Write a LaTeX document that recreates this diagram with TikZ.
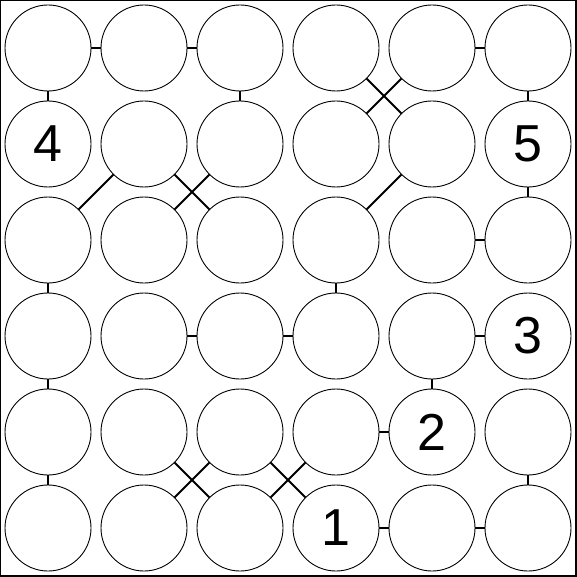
\documentclass[tikz,border=0pt]{standalone}
\usepackage{fontspec}
\setmainfont{Liberation Sans}
\begin{document}
\begin{tikzpicture}[x=1pt,y=-1pt,
  dot/.style={circle,draw,line width=0.9pt,inner sep=0pt,minimum size=86pt,font=\fontsize{52}{60}\selectfont},
  link/.style={line width=2pt}]
\useasboundingbox (0,0) rectangle (577,577);
\draw[line width=1.2pt] (0.6,0.6) rectangle (576,576);
\foreach \r in {0,...,5}{
  \foreach \c in {0,...,5}{
    \node[dot] (c\r\c) at ({48+96*\c},{48+96*\r}) {};
  }
}
\node at (c10) {\fontsize{52}{60}\selectfont 4};
\node at (c15) {\fontsize{52}{60}\selectfont 5};
\node at (c35) {\fontsize{52}{60}\selectfont 3};
\node at (c44) {\fontsize{52}{60}\selectfont 2};
\node at (c53) {\fontsize{52}{60}\selectfont 1};
% horizontal
\draw[link] (c00) -- (c01);
\draw[link] (c01) -- (c02);
\draw[link] (c04) -- (c05);
\draw[link] (c24) -- (c25);
\draw[link] (c31) -- (c32);
\draw[link] (c32) -- (c33);
\draw[link] (c34) -- (c35);
\draw[link] (c43) -- (c44);
\draw[link] (c53) -- (c54);
\draw[link] (c54) -- (c55);
% vertical
\draw[link] (c00) -- (c10);
\draw[link] (c02) -- (c12);
\draw[link] (c05) -- (c15);
\draw[link] (c15) -- (c25);
\draw[link] (c20) -- (c30);
\draw[link] (c23) -- (c33);
\draw[link] (c30) -- (c40);
\draw[link] (c34) -- (c44);
\draw[link] (c40) -- (c50);
\draw[link] (c45) -- (c55);
% diagonal
\draw[link] (c03) -- (c14);
\draw[link] (c04) -- (c13);
\draw[link] (c11) -- (c20);
\draw[link] (c11) -- (c22);
\draw[link] (c12) -- (c21);
\draw[link] (c14) -- (c23);
\draw[link] (c41) -- (c52);
\draw[link] (c42) -- (c51);
\draw[link] (c42) -- (c53);
\draw[link] (c43) -- (c52);
\end{tikzpicture}
\end{document}
